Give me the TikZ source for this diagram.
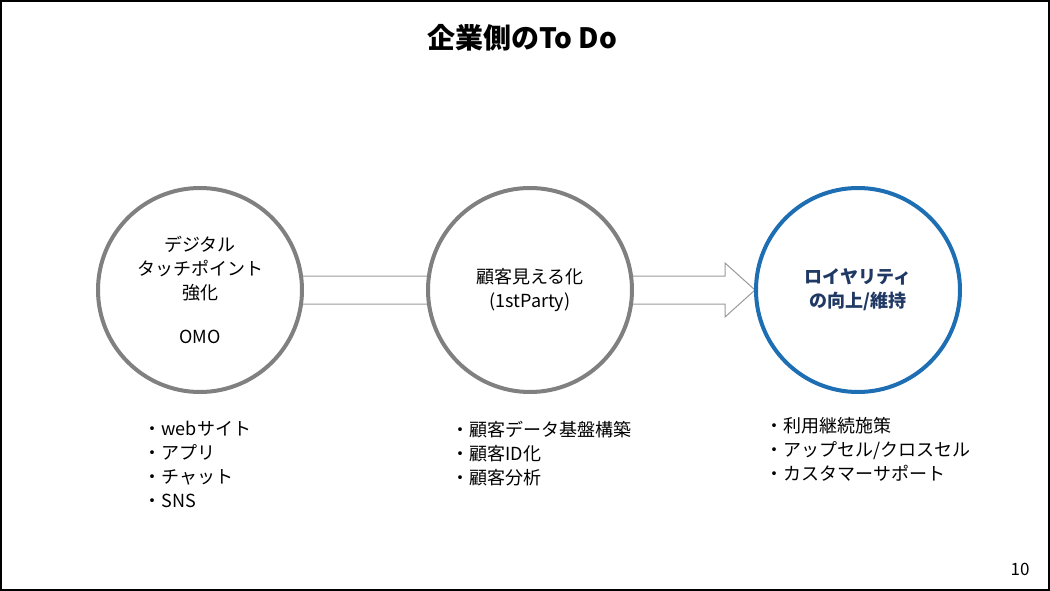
\documentclass[tikz,border=0pt]{standalone}
\usepackage{fontspec}
\newfontfamily\jp{Noto Sans CJK JP}
\definecolor{ring}{RGB}{128,128,128}
\definecolor{blu}{RGB}{30,110,180}
\definecolor{dblu}{RGB}{31,56,100}
\begin{document}
\begin{tikzpicture}[x=1pt,y=-1pt,
  circ/.style={circle,draw=ring,line width=4pt,fill=white,minimum size=204pt,inner sep=0pt,align=center,font=\jp\fontsize{18}{24}\selectfont},
  lst/.style={anchor=north west,align=left,font=\jp\fontsize{18}{24}\selectfont}]
\draw[line width=2pt] (1,1) rectangle (1049,590);
\useasboundingbox (0,0) rectangle (1050,591);
\node[font=\jp\bfseries\fontsize{28}{30}\selectfont] (title) at (522,38) {企業側のTo Do};
\draw[ring!80,fill=white,line width=1pt] (280,276) -- (725,276) -- (725,263) -- (755,290) -- (725,317) -- (725,304) -- (280,304) -- cycle;
\node[circ] (a) at (200,290) {デジタル\\タッチポイント\\強化\\[20pt]OMO};
\node[circ] (b) at (530,290) {顧客見える化\\(1stParty)};
\node[circ,draw=blu,text=dblu,font=\jp\bfseries\fontsize{18}{24}\selectfont] (c) at (858,290) {ロイヤリティ\\の向上/維持};
\node[lst] (la) at (140,418) {・webサイト\\・アプリ\\・チャット\\・SNS};
\node[lst] (lb) at (448,418) {・顧客データ基盤構築\\・顧客ID化\\・顧客分析};
\node[lst] (lc) at (762,414) {・利用継続施策\\・アップセル/クロスセル\\・カスタマーサポート};
\node[font=\jp\fontsize{17}{18}\selectfont] (pg) at (1020,569) {10};
\end{tikzpicture}
\end{document}
